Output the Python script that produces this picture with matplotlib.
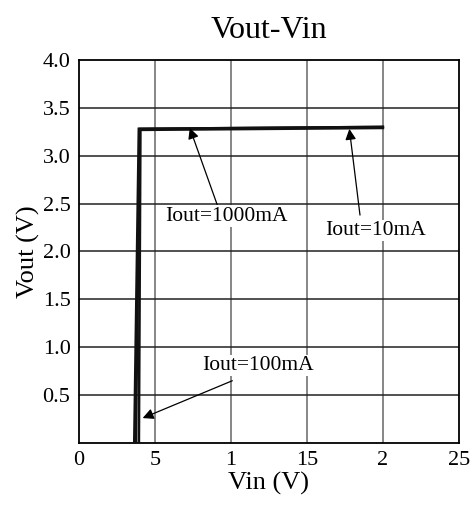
import matplotlib
matplotlib.use("Agg")
import matplotlib.pyplot as plt

plt.rcParams['font.family'] = ['Liberation Serif', 'DejaVu Serif']

# Vin (V) / Vout (V) for each load current
vin_10ma = [3.65, 3.95, 20.0]
vout_10ma = [0.0, 3.28, 3.30]
vin_100ma = [3.75, 4.00, 20.0]
vout_100ma = [0.0, 3.28, 3.30]
vin_1000ma = [3.95, 4.05, 20.0]
vout_1000ma = [0.0, 3.27, 3.29]

x_ticks = [0, 5, 10, 15, 20, 25]
x_tick_labels = ["0", "5", "1", "15", "2", "25"]
y_ticks = [0.5, 1.0, 1.5, 2.0, 2.5, 3.0, 3.5, 4.0]
y_tick_labels = ["0.5", "1.0", "1.5", "2.0", "2.5", "3.0", "3.5", "4.0"]

fig = plt.figure(figsize=(4.72, 5.08), dpi=100)
ax = fig.add_axes([0.167, 0.128, 0.805, 0.754])

for xs, ys in [(vin_10ma, vout_10ma), (vin_100ma, vout_100ma),
               (vin_1000ma, vout_1000ma)]:
    ax.plot(xs, ys, color='#111111', lw=1.9, solid_joinstyle='miter', zorder=3)

ax.set_xlim(0, 25)
ax.set_ylim(0, 4.0)
ax.set_xticks(x_ticks)
ax.set_xticklabels(x_tick_labels)
ax.set_yticks(y_ticks)
ax.set_yticklabels(y_tick_labels)
ax.tick_params(length=0, labelsize=16, pad=6)

for x in x_ticks[1:-1]:
    ax.axvline(x, color='#666666', lw=1.1, zorder=1)
for y in y_ticks[:-1]:
    ax.axhline(y, color='#222222', lw=1.1, zorder=1)
for s in ax.spines.values():
    s.set_linewidth(1.3)

ax.set_title("Vout-Vin", fontsize=23, pad=16)
ax.set_xlabel("Vin (V)", fontsize=19, labelpad=1)
ax.set_ylabel("Vout (V)", fontsize=19, labelpad=2)

arrow = dict(arrowstyle='-|>', color='black', lw=0.9, mutation_scale=16,
             shrinkA=0, shrinkB=0)
ax.annotate("", xy=(7.3, 3.29), xytext=(9.1, 2.49), arrowprops=arrow)
ax.text(9.7, 2.37, "Iout=1000mA", fontsize=15.5, ha='center', va='center',
        bbox=dict(facecolor='white', edgecolor='none', pad=1))
ax.annotate("", xy=(17.8, 3.28), xytext=(18.5, 2.38), arrowprops=arrow)
ax.text(19.5, 2.22, "Iout=10mA", fontsize=15.5, ha='center', va='center',
        bbox=dict(facecolor='white', edgecolor='none', pad=1))
ax.annotate("", xy=(4.2, 0.26), xytext=(10.1, 0.65), arrowprops=arrow)
ax.text(11.8, 0.81, "Iout=100mA", fontsize=15.5, ha='center', va='center',
        bbox=dict(facecolor='white', edgecolor='none', pad=1))

fig.savefig("out.png", dpi=100)
